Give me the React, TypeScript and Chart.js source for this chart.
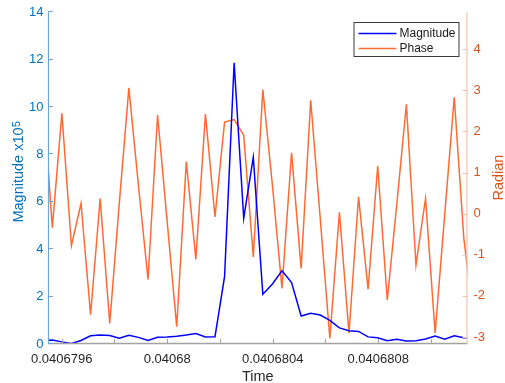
import React, { useEffect, useRef } from "react";
import { Chart, registerables } from "chart.js";

Chart.register(...registerables);

// Time samples (s)
const time = [
  0.0406795281, 0.0406795644, 0.0406796007, 0.0406796369, 0.0406796732, 0.0406797095,
  0.0406797458, 0.0406797821, 0.0406798183, 0.0406798546, 0.0406798909, 0.0406799272,
  0.0406799635, 0.0406799997, 0.040680036, 0.0406800723, 0.0406801086, 0.0406801449,
  0.0406801811, 0.0406802174, 0.0406802537, 0.04068029, 0.0406803263, 0.0406803625,
  0.0406803988, 0.0406804351, 0.0406804714, 0.0406805077, 0.0406805439, 0.0406805802,
  0.0406806165, 0.0406806528, 0.0406806891, 0.0406807253, 0.0406807616, 0.0406807979,
  0.0406808342, 0.0406808705, 0.0406809067, 0.040680943, 0.0406809793, 0.0406810156,
  0.0406810519, 0.0406810881, 0.0406811244, 0.0406811607,
];

// Magnitude (x10^5)
const magnitude = [
  0.15, 0.17, 0.09, 0.02, 0.15, 0.35, 0.38, 0.36, 0.24, 0.37, 0.28, 0.15,
  0.28, 0.3, 0.33, 0.38, 0.44, 0.3, 0.31, 2.84, 11.87, 5.3, 7.88, 2.1,
  2.53, 3.09, 2.59, 1.18, 1.3, 1.22, 1.0, 0.68, 0.56, 0.53, 0.3, 0.26,
  0.14, 0.2, 0.13, 0.14, 0.21, 0.34, 0.2, 0.35, 0.26, 0.27,
];

// Phase (radian)
const phase = [
  3.0, -0.34, 2.44, -0.78, 0.25, -2.46, 0.37, -2.67, 0.25, 3.06, 0.69, -1.6,
  2.4, -0.18, -2.75, 1.27, -1.11, 2.42, -0.08, 2.23, 2.29, 1.91, -1.05, 3.02,
  0.69, -1.82, 1.48, -1.33, 2.76, -0.13, -3.03, 0.03, -2.91, 0.41, -1.84, 1.16,
  -2.1, 0.24, 2.66, -1.25, 0.37, -2.9, -0.03, 2.83, -0.6, -2.5,
];

const xTicks = [0.0406796, 0.0406798, 0.04068, 0.0406802, 0.0406804, 0.0406806, 0.0406808, 0.040681];
const xTickLabels = ["0.0406796", "", "0.04068", "", "0.0406804", "", "0.0406808", ""];
const magTicks = [0, 2, 4, 6, 8, 10, 12, 14];
const phaseTicks = [-3, -2, -1, 0, 1, 2, 3, 4];

const X_MIN = 0.04067954806;
const X_MAX = 0.04068113834;
const MAG_MIN = 0;
const MAG_MAX = 14;
const PH_MIN = -3.17;
const PH_MAX = 4.9;

const FONT = '"Liberation Sans", Arial, Helvetica, sans-serif';
const BLUE_AX = "#0072BD";
const ORANGE_AX = "#D95319";
const MAG_COLOR = "#0000FF";
const PH_COLOR = "#FF6A33";

const axesPlugin = {
  id: "matlabAxes",
  afterDatasetsDraw(chart: any) {
    const { ctx, chartArea: ca, scales } = chart;
    const sx = scales.x;
    const sy = scales.y;
    const sy1 = scales.y1;
    ctx.save();

    // Legend
    const lgL = ca.right - 113.5;
    const lgT = ca.top + 10.3;
    const lgW = 105;
    const lgH = 34;
    ctx.fillStyle = "#ffffff";
    ctx.fillRect(lgL, lgT, lgW, lgH);
    ctx.strokeStyle = "#3a3a3a";
    ctx.lineWidth = 1;
    ctx.strokeRect(lgL, lgT, lgW, lgH);
    const items = [
      { label: chart.data.datasets[0].label, color: MAG_COLOR },
      { label: chart.data.datasets[1].label, color: PH_COLOR },
    ];
    items.forEach((it, i) => {
      const y = lgT + 11 + i * 15;
      ctx.strokeStyle = it.color;
      ctx.lineWidth = 1.5;
      ctx.beginPath();
      ctx.moveTo(lgL + 4.5, y);
      ctx.lineTo(lgL + 42.5, y);
      ctx.stroke();
      ctx.fillStyle = "#1a1a1a";
      ctx.font = `12px ${FONT}`;
      ctx.textAlign = "left";
      ctx.textBaseline = "middle";
      ctx.fillText(it.label, lgL + 45.5, y + 0.5);
    });

    // Bottom axis
    ctx.strokeStyle = "#A3A3A3";
    ctx.lineWidth = 1.3;
    ctx.beginPath();
    ctx.moveTo(ca.left, ca.bottom - 0.5);
    ctx.lineTo(ca.right, ca.bottom - 0.5);
    ctx.stroke();
    ctx.lineWidth = 1;
    xTicks.forEach((v, i) => {
      const px = Math.round(sx.getPixelForValue(v)) + 0.5;
      ctx.beginPath();
      ctx.moveTo(px, ca.bottom);
      ctx.lineTo(px, ca.bottom - 5);
      ctx.stroke();
      const lab = xTickLabels[i];
      if (lab) {
        ctx.fillStyle = "#262626";
        ctx.font = `13px ${FONT}`;
        ctx.textAlign = "center";
        ctx.textBaseline = "alphabetic";
        ctx.fillText(lab, sx.getPixelForValue(v), ca.bottom + 19);
      }
    });

    // Left axis
    ctx.strokeStyle = "#6FA6D6";
    ctx.lineWidth = 1.2;
    ctx.beginPath();
    ctx.moveTo(ca.left + 0.5, ca.top);
    ctx.lineTo(ca.left + 0.5, ca.bottom);
    ctx.stroke();
    ctx.lineWidth = 1;
    magTicks.forEach((v) => {
      const py = Math.round(sy.getPixelForValue(v)) - 0.5;
      ctx.beginPath();
      ctx.moveTo(ca.left, py);
      ctx.lineTo(ca.left + 5, py);
      ctx.stroke();
      ctx.fillStyle = BLUE_AX;
      ctx.font = `13px ${FONT}`;
      ctx.textAlign = "right";
      ctx.textBaseline = "middle";
      ctx.fillText(String(v), ca.left - 4.5, sy.getPixelForValue(v));
    });

    // Right axis
    ctx.strokeStyle = "#F3C3AE";
    ctx.lineWidth = 1.2;
    ctx.beginPath();
    ctx.moveTo(ca.right - 0.5, ca.top);
    ctx.lineTo(ca.right - 0.5, ca.bottom);
    ctx.stroke();
    ctx.lineWidth = 1;
    phaseTicks.forEach((v) => {
      const py = Math.round(sy1.getPixelForValue(v)) + 0.5;
      ctx.beginPath();
      ctx.moveTo(ca.right, py);
      ctx.lineTo(ca.right - 5, py);
      ctx.stroke();
      ctx.fillStyle = ORANGE_AX;
      ctx.font = `13px ${FONT}`;
      ctx.textAlign = "left";
      ctx.textBaseline = "middle";
      ctx.fillText(String(v), ca.right + 6, sy1.getPixelForValue(v));
    });

    // X title
    ctx.fillStyle = "#262626";
    ctx.font = `14.5px ${FONT}`;
    ctx.textAlign = "center";
    ctx.textBaseline = "alphabetic";
    ctx.fillText("Time", (ca.left + ca.right) / 2, 380.5);

    // Left title with superscript
    ctx.save();
    ctx.translate(22.5, (ca.top + ca.bottom) / 2 - 6);
    ctx.rotate(-Math.PI / 2);
    const main = "Magnitude x10";
    ctx.font = `14.5px ${FONT}`;
    const w1 = ctx.measureText(main).width;
    ctx.font = `10.5px ${FONT}`;
    const w2 = ctx.measureText("5").width;
    const start = -(w1 + w2) / 2;
    ctx.fillStyle = BLUE_AX;
    ctx.textAlign = "left";
    ctx.textBaseline = "alphabetic";
    ctx.font = `14.5px ${FONT}`;
    ctx.fillText(main, start, 0);
    ctx.font = `10.5px ${FONT}`;
    ctx.fillText("5", start + w1 + 0.5, -3);
    ctx.restore();

    // Right title
    ctx.save();
    ctx.translate(503.3, (ca.top + ca.bottom) / 2 - 0.5);
    ctx.rotate(-Math.PI / 2);
    ctx.fillStyle = ORANGE_AX;
    ctx.font = `14.5px ${FONT}`;
    ctx.textAlign = "center";
    ctx.textBaseline = "alphabetic";
    ctx.fillText("Radian", 0, 0);
    ctx.restore();

    ctx.restore();
  },
};

export default function App() {
  const ref = useRef<HTMLCanvasElement | null>(null);
  useEffect(() => {
    if (!ref.current) return;
    const chart = new Chart(ref.current, {
      type: "line",
      data: {
        datasets: [
          {
            label: "Magnitude",
            data: time.map((t, i) => ({ x: t, y: magnitude[i] })),
            yAxisID: "y",
            borderColor: MAG_COLOR,
            backgroundColor: MAG_COLOR,
            borderWidth: 1.5,
            pointRadius: 0,
            tension: 0,
            order: 0,
          },
          {
            label: "Phase",
            data: time.map((t, i) => ({ x: t, y: phase[i] })),
            yAxisID: "y1",
            borderColor: PH_COLOR,
            backgroundColor: PH_COLOR,
            borderWidth: 1.5,
            pointRadius: 0,
            tension: 0,
            order: 1,
          },
        ],
      },
      options: {
        animation: false,
        responsive: false,
        devicePixelRatio: 1,
        layout: { padding: { left: 48, right: 37.5, top: 12.2, bottom: 39 } },
        scales: {
          x: { type: "linear", min: X_MIN, max: X_MAX, display: false },
          y: { type: "linear", position: "left", min: MAG_MIN, max: MAG_MAX, display: false },
          y1: { type: "linear", position: "right", min: PH_MIN, max: PH_MAX, display: false },
        },
        plugins: {
          legend: { display: false },
          tooltip: { enabled: false },
        },
      },
      plugins: [axesPlugin],
    } as any);
    return () => chart.destroy();
  }, []);
  return (
    <div style={{ position: "fixed", left: 0, top: 0, width: 505, height: 383, background: "#fff" }}>
      <canvas ref={ref} width={505} height={383} style={{ display: "block", width: 505, height: 383 }} />
    </div>
  );
}
